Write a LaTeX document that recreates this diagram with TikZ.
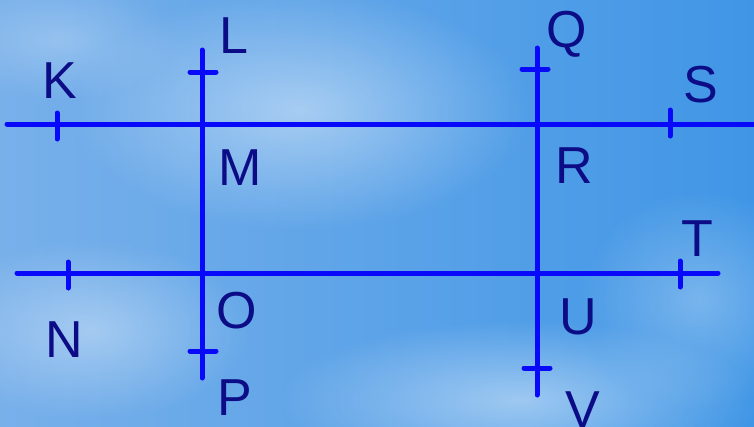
\documentclass[tikz,border=0pt]{standalone}
\usepackage{fontspec}
\setmainfont{Liberation Sans}
\usetikzlibrary{fadings}

\definecolor{skyleft}{RGB}{120,176,234}
\definecolor{skyright}{RGB}{64,150,230}
\definecolor{linecol}{RGB}{8,8,250}
\definecolor{lettercol}{RGB}{12,12,135}

\tikzfading[name=cloudfade,inner color=transparent!20,outer color=transparent!100]

\tikzset{
  seg/.style={draw=linecol,line width=5pt,line cap=round},
  lbl/.style={text=lettercol,inner sep=0pt,anchor=base,font=\fontsize{52}{60}\selectfont},
  cloud/.style={fill=white,path fading=cloudfade}
}

\begin{document}
\begin{tikzpicture}[x=1pt,y=-1pt]
\useasboundingbox (0,0) rectangle (754,426);
\clip (0,0) rectangle (754,426);

% sky
\shade[left color=skyleft,right color=skyright] (0,0) rectangle (754,426);
\fill[cloud,opacity=0.55] (300,110) ellipse (230 and 120);
\fill[cloud,opacity=0.45] (90,330) ellipse (160 and 90);
\fill[cloud,opacity=0.55] (520,400) ellipse (240 and 80);
\fill[cloud,opacity=0.35] (700,300) ellipse (120 and 110);
\fill[cloud,opacity=0.30] (60,40) ellipse (120 and 60);

% line ends and crossings
\coordinate (h1a) at (7,124);
\coordinate (h1b) at (760,124);
\coordinate (h2a) at (17,273);
\coordinate (h2b) at (718,273);
\coordinate (v1a) at (202,50);
\coordinate (v1b) at (202,378);
\coordinate (v2a) at (537,48);
\coordinate (v2b) at (537,395);

% tick marks
\coordinate (tK) at (57,126);
\coordinate (tS) at (670,123);
\coordinate (tN) at (68,275);
\coordinate (tT) at (680,274);
\coordinate (tL) at (203,72);
\coordinate (tP) at (203,351);
\coordinate (tQ) at (535,69);
\coordinate (tV) at (537,368);

\draw[seg] (h1a) -- (h1b);
\draw[seg] (h2a) -- (h2b);
\draw[seg] (v1a) -- (v1b);
\draw[seg] (v2a) -- (v2b);

\foreach \t in {tK,tS,tN,tT}
  \draw[seg] (\t) ++(0,-13) -- ++(0,26);
\foreach \t in {tL,tP,tQ,tV}
  \draw[seg] (\t) ++(-13,0) -- ++(26,0);

% letters
\node[lbl] (K) at (60,98) {K};
\node[lbl] (L) at (234,53) {L};
\node[lbl] (M) at (240,185) {M};
\node[lbl] (Q) at (567,47) {Q};
\node[lbl] (S) at (701,102) {S};
\node[lbl] (R) at (574,183) {R};
\node[lbl] (N) at (64,357) {N};
\node[lbl] (O) at (237,328) {O};
\node[lbl] (P) at (235,415) {P};
\node[lbl] (T) at (697,256) {T};
\node[lbl] (U) at (578,334) {U};
\node[lbl] (V) at (583,427) {V};
\end{tikzpicture}
\end{document}
